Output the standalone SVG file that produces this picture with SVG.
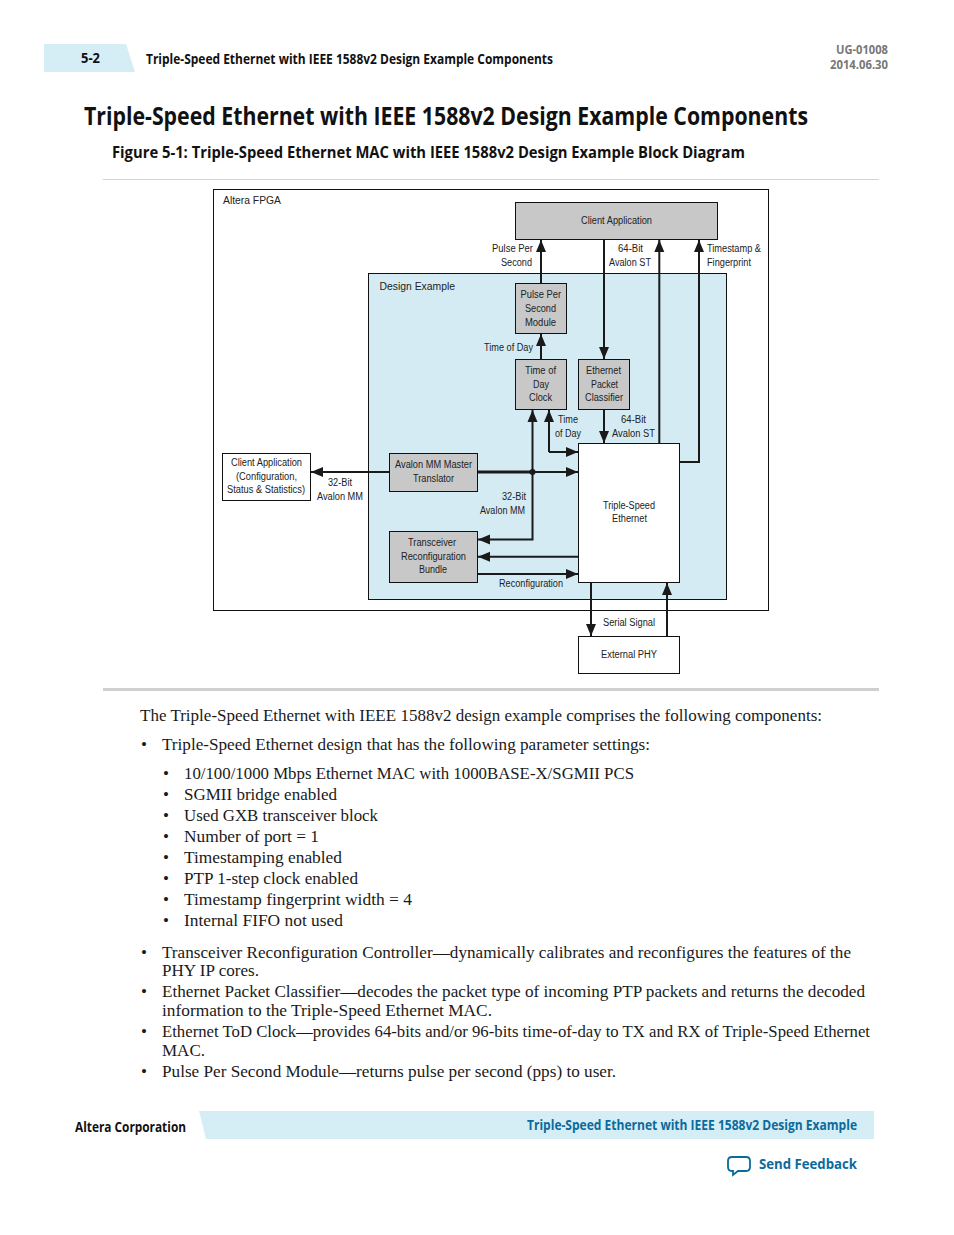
<svg xmlns="http://www.w3.org/2000/svg" width="954" height="1235" viewBox="0 0 954 1235">
<style>
text{fill:#111}
.h{font-family:"Open Sans","Noto Sans",sans-serif;font-weight:700}
.b{font-family:"Liberation Serif",serif;font-size:17px;fill:#1a1a1a}
.l{font-family:"Liberation Sans",Arial,sans-serif;font-size:10px;fill:#222}
.g{fill:#c8c8c8;stroke:#111;stroke-width:1}
.w{fill:#fff;stroke:#111;stroke-width:1}
.c{fill:none;stroke:#1a1a1a;stroke-width:2}
.a{marker-end:url(#arrow)}
.link{fill:#0b6a9c}
</style>
<defs><marker id="arrow" markerUnits="userSpaceOnUse" markerWidth="13" markerHeight="11" refX="12" refY="5.5" orient="auto"><path d="M0,0.5 L12,5.5 L0,10.5 Z" fill="#1a1a1a"/></marker></defs>
<rect width="954" height="1235" fill="#fff"/>
<g id="page-header">
<polygon points="44,44 126,44 135,72 44,72" fill="#d5edf5"/>
<text class="h" x="81" y="63" font-size="13.5" textLength="19" lengthAdjust="spacingAndGlyphs">5-2</text>
<text class="h" x="146" y="64" font-size="13.5" textLength="407" lengthAdjust="spacingAndGlyphs">Triple-Speed Ethernet with IEEE 1588v2 Design Example Components</text>
<text class="h" x="888" y="54" font-size="11.5" text-anchor="end" textLength="52" lengthAdjust="spacingAndGlyphs" style="fill:#777">UG-01008</text>
<text class="h" x="888" y="69" font-size="11.5" text-anchor="end" textLength="58" lengthAdjust="spacingAndGlyphs" style="fill:#777">2014.06.30</text>
</g>
<text class="h" x="84" y="125" font-size="25" textLength="724" lengthAdjust="spacingAndGlyphs">Triple-Speed Ethernet with IEEE 1588v2 Design Example Components</text>
<text class="h" x="112" y="158" font-size="16" textLength="633" lengthAdjust="spacingAndGlyphs">Figure 5-1: Triple-Speed Ethernet MAC with IEEE 1588v2 Design Example Block Diagram</text>
<rect x="103" y="179" width="776" height="1" fill="#d4d4d4"/>
<rect x="103" y="688" width="776" height="3" fill="#cfcfcf"/>

<g id="altera-fpga"><rect class="w" x="213.5" y="189.5" width="555" height="421"/>
<text class="l" x="223" y="204" font-size="11.5" textLength="58" lengthAdjust="spacingAndGlyphs">Altera FPGA</text></g>
<g id="design-example"><rect x="368.5" y="273.5" width="358" height="326" fill="#d5ebf3" stroke="#111"/>
<text class="l" x="379.5" y="290" textLength="75.5" lengthAdjust="spacingAndGlyphs">Design Example</text></g>

<g id="connectors">
<path class="c a" d="M541,284V240"/>
<path class="c a" d="M604,239V359"/>
<path class="c a" d="M659.3,444V240"/>
<path class="c a" d="M680,462H699V240"/>
<path class="c a" d="M541,360V334"/>
<path class="c a" d="M532.5,472V410"/>
<path class="c a" d="M532.5,472V539.5H478"/>
<path class="c a" d="M549,452V410"/>
<path class="c a" d="M549,452H578"/>
<path class="c a" d="M604,410V443"/>
<path class="c a" d="M478,472H578"/>
<path class="c" d="M478,472H532.5" style="stroke-width:3"/>
<path class="c a" d="M390,472H311"/>
<path class="c a" d="M578,556.7H478"/>
<path class="c a" d="M478,574H578"/>
<path class="c a" d="M591,583V636"/>
<path class="c a" d="M667,636V583"/>
<circle cx="532.5" cy="472" r="3" fill="#1a1a1a"/>
</g>

<g id="client-application"><rect class="g" x="515.5" y="202.5" width="202" height="37"/>
<text class="l" x="581" y="224" textLength="71" lengthAdjust="spacingAndGlyphs">Client Application</text></g>
<g id="pulse-per-second-module"><rect class="g" x="515.5" y="283.5" width="51" height="50"/>
<text class="l" x="520.5" y="298" textLength="40.5" lengthAdjust="spacingAndGlyphs">Pulse Per</text>
<text class="l" x="525" y="312" textLength="31" lengthAdjust="spacingAndGlyphs">Second</text>
<text class="l" x="525" y="326" textLength="31" lengthAdjust="spacingAndGlyphs">Module</text></g>
<g id="time-of-day-clock"><rect class="g" x="515.5" y="359.5" width="51" height="50"/>
<text class="l" x="525" y="374" textLength="31" lengthAdjust="spacingAndGlyphs">Time of</text>
<text class="l" x="533" y="388" textLength="16" lengthAdjust="spacingAndGlyphs">Day</text>
<text class="l" x="529" y="401" textLength="23" lengthAdjust="spacingAndGlyphs">Clock</text></g>
<g id="ethernet-packet-classifier"><rect class="g" x="578.5" y="359.5" width="51" height="50"/>
<text class="l" x="586" y="374" textLength="35" lengthAdjust="spacingAndGlyphs">Ethernet</text>
<text class="l" x="591" y="388" textLength="27" lengthAdjust="spacingAndGlyphs">Packet</text>
<text class="l" x="585" y="401" textLength="38" lengthAdjust="spacingAndGlyphs">Classifier</text></g>
<g id="triple-speed-ethernet"><rect class="w" x="578.5" y="443.5" width="101" height="139"/>
<text class="l" x="603" y="509" textLength="52" lengthAdjust="spacingAndGlyphs">Triple-Speed</text>
<text class="l" x="612" y="522" textLength="35" lengthAdjust="spacingAndGlyphs">Ethernet</text></g>
<g id="external-phy"><rect class="w" x="578.5" y="636.5" width="101" height="37"/>
<text class="l" x="601" y="658" textLength="56" lengthAdjust="spacingAndGlyphs">External PHY</text></g>
<g id="avalon-mm-master-translator"><rect class="g" x="389.5" y="453.5" width="88" height="38"/>
<text class="l" x="395" y="468" textLength="77" lengthAdjust="spacingAndGlyphs">Avalon MM Master</text>
<text class="l" x="413" y="482" textLength="41" lengthAdjust="spacingAndGlyphs">Translator</text></g>
<g id="transceiver-reconfiguration-bundle"><rect class="g" x="389.5" y="531.5" width="88" height="51"/>
<text class="l" x="408" y="546" textLength="48" lengthAdjust="spacingAndGlyphs">Transceiver</text>
<text class="l" x="401" y="560" textLength="65" lengthAdjust="spacingAndGlyphs">Reconfiguration</text>
<text class="l" x="419" y="573" textLength="28" lengthAdjust="spacingAndGlyphs">Bundle</text></g>
<g id="client-application-config"><rect class="w" x="222.5" y="453.5" width="88" height="47"/>
<text class="l" x="231" y="466" textLength="71" lengthAdjust="spacingAndGlyphs">Client Application</text>
<text class="l" x="236" y="480" textLength="61" lengthAdjust="spacingAndGlyphs">(Configuration,</text>
<text class="l" x="227" y="493" textLength="78" lengthAdjust="spacingAndGlyphs">Status &amp; Statistics)</text></g>

<g id="connector-labels">
<text class="l" x="492" y="252" textLength="41" lengthAdjust="spacingAndGlyphs">Pulse Per</text>
<text class="l" x="501" y="266" textLength="31" lengthAdjust="spacingAndGlyphs">Second</text>
<text class="l" x="618" y="252" textLength="25" lengthAdjust="spacingAndGlyphs">64-Bit</text>
<text class="l" x="609" y="266" textLength="42" lengthAdjust="spacingAndGlyphs">Avalon ST</text>
<text class="l" x="707" y="252" textLength="54" lengthAdjust="spacingAndGlyphs">Timestamp &amp;</text>
<text class="l" x="707" y="266" textLength="44" lengthAdjust="spacingAndGlyphs">Fingerprint</text>
<text class="l" x="484" y="351" textLength="49" lengthAdjust="spacingAndGlyphs">Time of Day</text>
<text class="l" x="558" y="423" textLength="20" lengthAdjust="spacingAndGlyphs">Time</text>
<text class="l" x="555" y="437" textLength="26" lengthAdjust="spacingAndGlyphs">of Day</text>
<text class="l" x="621" y="423" textLength="25" lengthAdjust="spacingAndGlyphs">64-Bit</text>
<text class="l" x="612" y="437" textLength="43" lengthAdjust="spacingAndGlyphs">Avalon ST</text>
<text class="l" x="328" y="486" textLength="24" lengthAdjust="spacingAndGlyphs">32-Bit</text>
<text class="l" x="317" y="500" textLength="46" lengthAdjust="spacingAndGlyphs">Avalon MM</text>
<text class="l" x="502" y="500" textLength="24" lengthAdjust="spacingAndGlyphs">32-Bit</text>
<text class="l" x="480" y="514" textLength="45" lengthAdjust="spacingAndGlyphs">Avalon MM</text>
<text class="l" x="499" y="587" textLength="64" lengthAdjust="spacingAndGlyphs">Reconfiguration</text>
<text class="l" x="603" y="626" textLength="52" lengthAdjust="spacingAndGlyphs">Serial Signal</text>
</g>

<g id="body-text">
<text class="b" x="140" y="721" textLength="682" lengthAdjust="spacingAndGlyphs">The Triple-Speed Ethernet with IEEE 1588v2 design example comprises the following components:</text>
<text class="b" x="141" y="750">•</text><text class="b" x="162" y="750" textLength="488" lengthAdjust="spacingAndGlyphs">Triple-Speed Ethernet design that has the following parameter settings:</text>
<text class="b" x="163" y="779">•</text><text class="b" x="184" y="779" textLength="450" lengthAdjust="spacingAndGlyphs">10/100/1000 Mbps Ethernet MAC with 1000BASE-X/SGMII PCS</text>
<text class="b" x="163" y="800">•</text><text class="b" x="184" y="800" textLength="153" lengthAdjust="spacingAndGlyphs">SGMII bridge enabled</text>
<text class="b" x="163" y="821">•</text><text class="b" x="184" y="821" textLength="194" lengthAdjust="spacingAndGlyphs">Used GXB transceiver block</text>
<text class="b" x="163" y="842">•</text><text class="b" x="184" y="842" textLength="135" lengthAdjust="spacingAndGlyphs">Number of port = 1</text>
<text class="b" x="163" y="863">•</text><text class="b" x="184" y="863" textLength="158" lengthAdjust="spacingAndGlyphs">Timestamping enabled</text>
<text class="b" x="163" y="884">•</text><text class="b" x="184" y="884" textLength="174" lengthAdjust="spacingAndGlyphs">PTP 1-step clock enabled</text>
<text class="b" x="163" y="905">•</text><text class="b" x="184" y="905" textLength="228" lengthAdjust="spacingAndGlyphs">Timestamp fingerprint width = 4</text>
<text class="b" x="163" y="926">•</text><text class="b" x="184" y="926" textLength="159" lengthAdjust="spacingAndGlyphs">Internal FIFO not used</text>
<text class="b" x="141" y="958">•</text><text class="b" x="162" y="958" textLength="689" lengthAdjust="spacingAndGlyphs">Transceiver Reconfiguration Controller—dynamically calibrates and reconfigures the features of the</text>
<text class="b" x="162" y="976" textLength="97" lengthAdjust="spacingAndGlyphs">PHY IP cores.</text>
<text class="b" x="141" y="997">•</text><text class="b" x="162" y="997" textLength="703" lengthAdjust="spacingAndGlyphs">Ethernet Packet Classifier—decodes the packet type of incoming PTP packets and returns the decoded</text>
<text class="b" x="162" y="1016" textLength="330" lengthAdjust="spacingAndGlyphs">information to the Triple-Speed Ethernet MAC.</text>
<text class="b" x="141" y="1037">•</text><text class="b" x="162" y="1037" textLength="708" lengthAdjust="spacingAndGlyphs">Ethernet ToD Clock—provides 64-bits and/or 96-bits time-of-day to TX and RX of Triple-Speed Ethernet</text>
<text class="b" x="162" y="1056" textLength="43" lengthAdjust="spacingAndGlyphs">MAC.</text>
<text class="b" x="141" y="1077">•</text><text class="b" x="162" y="1077" textLength="454" lengthAdjust="spacingAndGlyphs">Pulse Per Second Module—returns pulse per second (pps) to user.</text>
</g>

<g id="page-footer">
<polygon points="199,1111 874,1111 874,1139 206,1139" fill="#d5edf5"/>
<text class="h" x="75" y="1132" font-size="13.5" textLength="111" lengthAdjust="spacingAndGlyphs">Altera Corporation</text>
<text class="h link" x="527" y="1130" font-size="13.5" textLength="330" lengthAdjust="spacingAndGlyphs">Triple-Speed Ethernet with IEEE 1588v2 Design Example</text>
<path d="M732,1157H746Q750,1157 750,1161V1167Q750,1171 746,1171H738L733,1175V1171H732Q728,1171 728,1167V1161Q728,1157 732,1157Z" fill="#fff" stroke="#0b6a9c" stroke-width="1.8"/>
<text class="h link" x="759" y="1169" font-size="14.5" textLength="98" lengthAdjust="spacingAndGlyphs">Send Feedback</text>
</g>
</svg>
